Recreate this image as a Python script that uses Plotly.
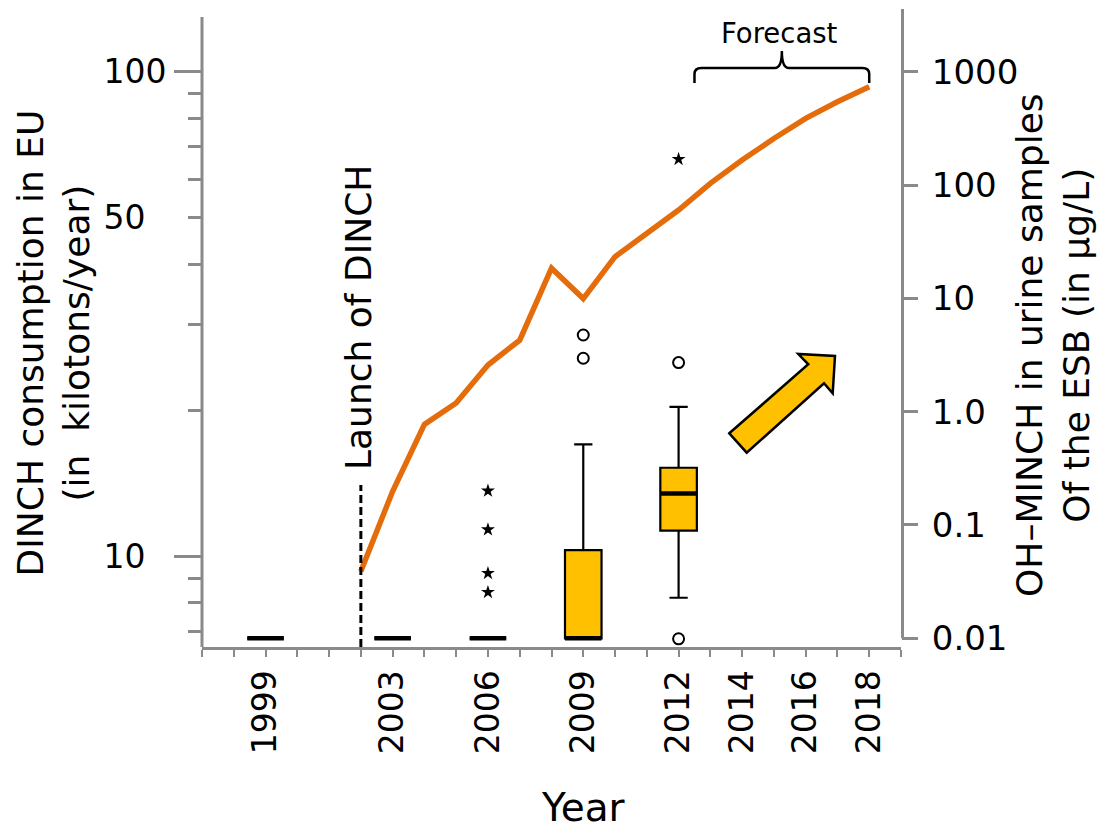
import plotly.graph_objects as go

# ---------------- data ----------------
years_line = list(range(2002, 2019))
dinch_kt = [9.3, 13.6, 18.7, 20.7, 24.8, 27.9, 39.3, 34.0, 41.5, 46.2, 51.8,
            58.8, 65.7, 72.8, 80.1, 86.7, 93.1]

box_years = [1999, 2003, 2006, 2009, 2012]
box_q1 = [0.01, 0.01, 0.01, 0.01, 0.089]
box_median = [0.01, 0.01, 0.01, 0.01, 0.19]
box_q3 = [0.01, 0.01, 0.01, 0.060, 0.32]
box_lower = [0.01, 0.01, 0.01, 0.01, 0.0228]
box_upper = [0.01, 0.01, 0.01, 0.515, 1.1]

outlier_years = [2009, 2009, 2012, 2012]
outlier_vals = [4.75, 2.96, 2.71, 0.0099]
extreme_years = [2006, 2006, 2006, 2006, 2012]
extreme_vals = [0.20, 0.091, 0.0375, 0.0255, 169]

x_tick_years = list(range(1997, 2020))
x_labeled = [1999, 2003, 2006, 2009, 2012, 2014, 2016, 2018]
left_major = [10, 50, 100]
left_major_text = ["10\u00a0\u00a0", "50\u00a0\u00a0", "100"]
left_long = [10, 100]
left_minor = [7, 8, 9, 20, 30, 40, 60, 70, 80, 90]
right_ticks = [0.01, 0.1, 1, 10, 100, 1000]
right_text = ["0.01", "0.1", "1.0", "10", "100", "1000"]
launch_year = 2002
forecast_start, forecast_end = 2012.5, 2018

# ---------------- styling / geometry ----------------
W, H = 1099, 830
L, R, T, B = 202, 198, 9, 183
PW, PH = W - L - R, H - T - B
GRAY = "#8a8a8a"
ORANGE = "#E46C0A"
YELLOW = "#FFC000"
FONT = "DejaVu Sans"
BOX_W = 1.15


def px(x):
    return (x - L) / PW


def py(y):
    return (H - B - y) / PH


fig = go.Figure()

fig.add_trace(go.Scatter(x=years_line, y=dinch_kt, mode="lines",
                         line=dict(color=ORANGE, width=5.5),
                         yaxis="y", showlegend=False, hoverinfo="skip"))

fig.add_trace(go.Box(x=box_years, q1=box_q1, median=box_median, q3=box_q3,
                     lowerfence=box_lower, upperfence=box_upper,
                     boxpoints=False, width=BOX_W, whiskerwidth=0.5,
                     fillcolor=YELLOW, line=dict(color="black", width=2.2),
                     yaxis="y2", showlegend=False, hoverinfo="skip"))

# thicker median bars
mx, my = [], []
for yr, md in zip(box_years, box_median):
    mx += [yr - BOX_W / 2, yr + BOX_W / 2, None]
    my += [md, md, None]
fig.add_trace(go.Scatter(x=mx, y=my, mode="lines",
                         line=dict(color="black", width=4.5),
                         yaxis="y2", showlegend=False, hoverinfo="skip"))

fig.add_trace(go.Scatter(x=outlier_years, y=outlier_vals, mode="markers",
                         marker=dict(symbol="circle-open", size=11, color="black",
                                     line=dict(width=2, color="black")),
                         yaxis="y2", showlegend=False, hoverinfo="skip"))
fig.add_trace(go.Scatter(x=extreme_years, y=extreme_vals, mode="markers",
                         marker=dict(symbol="star", size=10.5, color="black"),
                         yaxis="y2", showlegend=False, hoverinfo="skip"))
# helper trace so the long-tick overlay axis is drawn
fig.add_trace(go.Scatter(x=[None], y=[None], yaxis="y3", showlegend=False,
                         hoverinfo="skip"))

tickfont = dict(family=FONT, size=33, color="black")

fig.update_layout(
    width=W, height=H, autosize=False,
    margin=dict(l=L, r=R, t=T, b=B),
    paper_bgcolor="white", plot_bgcolor="white",
    font=dict(family=FONT, color="black"),
    xaxis=dict(range=[1997, 2019], tickmode="array", tickvals=x_tick_years,
               ticktext=[str(y) if y in x_labeled else "" for y in x_tick_years],
               tickangle=-90, ticks="outside", ticklen=7, tickwidth=2,
               tickcolor=GRAY, showline=True, linecolor=GRAY, linewidth=3,
               showgrid=False, zeroline=False, tickfont=tickfont),
    yaxis=dict(type="log", range=[0.8121, 2.1295], tickmode="array",
               tickvals=left_major, ticktext=left_major_text,
               ticks="outside", ticklen=13, tickwidth=2.5, tickcolor=GRAY,
               ticklabelstandoff=15,
               minor=dict(tickmode="array", tickvals=left_minor, ticks="outside",
                          ticklen=13, tickwidth=2.5, tickcolor=GRAY),
               showline=False, showgrid=False, zeroline=False, tickfont=tickfont),
    yaxis3=dict(type="log", range=[0.8121, 2.1295], overlaying="y", side="left",
                tickmode="array", tickvals=left_long, showticklabels=False,
                ticks="outside", ticklen=27, tickwidth=2.5, tickcolor=GRAY,
                showline=False, showgrid=False, zeroline=False),
    yaxis2=dict(type="log", range=[-2.0768, 3.5534], overlaying="y", side="right",
                tickmode="array", tickvals=right_ticks, ticktext=right_text,
                ticks="outside", ticklen=16, tickwidth=2.5, tickcolor=GRAY,
                ticklabelstandoff=7,
                showline=False, showgrid=False, zeroline=False,
                tickfont=dict(family=FONT, size=34, color="black")),
)

# axis lines
fig.add_shape(type="line", xref="paper", yref="paper", x0=0, x1=0,
              y0=0, y1=py(17), line=dict(color=GRAY, width=3))
fig.add_shape(type="line", xref="paper", yref="paper", x0=px(902.5), x1=px(902.5),
              y0=py(638.3), y1=py(9), line=dict(color=GRAY, width=3))

# launch line
fig.add_shape(type="line", xref="x", yref="paper", x0=launch_year, x1=launch_year,
              y0=0, y1=py(485), line=dict(color="black", width=3, dash="8px,4px"))

# forecast bracket
fx0 = px(L + (forecast_start - 1997) * PW / 22)
fx1 = px(L + (forecast_end - 1997) * PW / 22)
fm = (fx0 + fx1) / 2
dx = 7 / PW
yb, yl, yt = py(83), py(68), py(51)
yc = py(74)
path = (f"M {fx0},{yb} L {fx0},{yc} Q {fx0},{yl} {fx0+dx},{yl} "
        f"L {fm-dx},{yl} Q {fm},{yl} {fm},{yt} Q {fm},{yl} {fm+dx},{yl} "
        f"L {fx1-dx},{yl} Q {fx1},{yl} {fx1},{yc} L {fx1},{yb}")
fig.add_shape(type="path", xref="paper", yref="paper", path=path,
              line=dict(color="black", width=2.5))

# big yellow arrow
arrow_px = [(729.3, 433.3), (808.3, 364.3), (798.3, 354), (835, 356),
            (832.7, 393.3), (824, 383.3), (746.7, 452.7)]
apath = "M " + " L ".join(f"{px(a)},{py(b)}" for a, b in arrow_px) + " Z"
fig.add_shape(type="path", xref="paper", yref="paper", path=apath,
              fillcolor=YELLOW, line=dict(color="black", width=2.5))


# texts
def ann(text, x, y, size, angle=0):
    fig.add_annotation(text=text, xref="paper", yref="paper", x=px(x), y=py(y),
                       xanchor="center", yanchor="middle", showarrow=False,
                       textangle=angle, font=dict(family=FONT, size=size, color="black"))


ann("DINCH consumption in EU<br>(in\u00a0 kilotons/year)", 54, 343.5, 36, -90)
ann("OH\u2013MINCH in urine samples<br>Of the ESB (in \u00b5g/L)", 1053, 345, 36, -90)
ann("Launch of DINCH", 358, 318, 36, -90)
ann("Forecast", 779, 33.5, 27.5)
ann("Year", 583.5, 807, 39)

fig.write_html("out.html", config={"displayModeBar": False},
               post_script="document.body.style.margin='0';"
                           "document.body.style.overflow='hidden';")
